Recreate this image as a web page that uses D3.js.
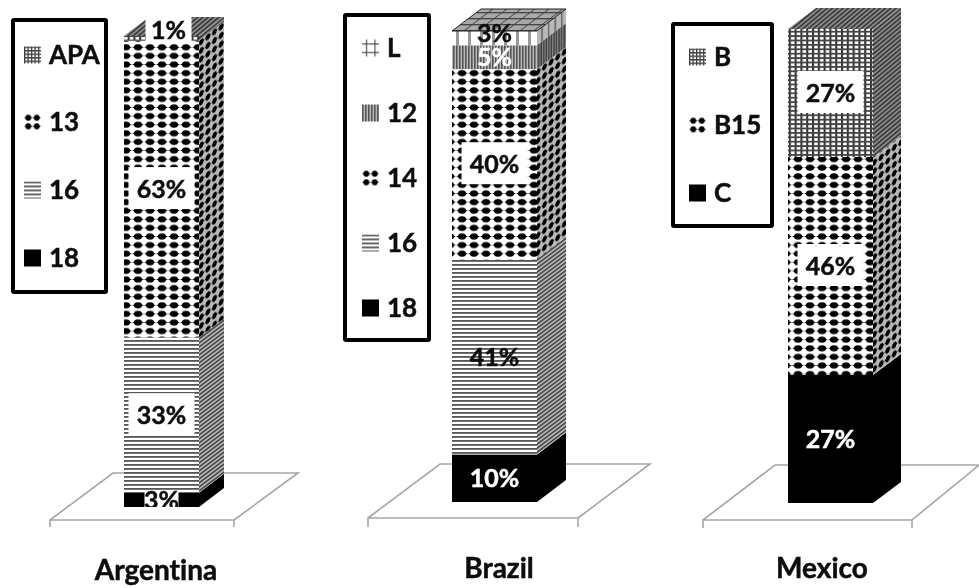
<!DOCTYPE html>
<html>
<head>
<meta charset="utf-8">
<script src="https://cdn.jsdelivr.net/npm/d3@7"></script>
<style>
  html, body { margin: 0; background: #fff; }
  text { font-family: Lato, "Open Sans", sans-serif; font-weight: 700; fill: #111; stroke-width: 0.5; font-variant-ligatures: none; }
</style>
</head>
<body>
<div id="container"></div>
<script>
/* DATA */
const countries = ["Argentina", "Brazil", "Mexico"]
const argentinaSeries = ["18", "16", "13", "APA"]
const argentinaValues = [3, 33, 63, 1]
const brazilSeries = ["18", "16", "14", "12", "L"]
const brazilValues = [10, 41, 40, 5, 3]
const mexicoSeries = ["C", "B15", "B"]
const mexicoValues = [27, 46, 27]

/* CONSTANTS */
const width = 979, height = 588

// fill type for each legend name
const fills = {
  "18": "solid", "C": "solid",
  "16": "lines",
  "13": "dots", "14": "dots", "B15": "dots",
  "12": "vlines",
  "L": "sparse",
  "APA": "grid", "B": "grid"
}

// layout of each little chart, the bar's front face and its floor
const panels = [
  { name: countries[0], series: argentinaSeries, values: argentinaValues, total: 100,
    x: [124, 199], y: [507, 36], depth: [25, -19],
    floor: { left: 50, right: 234, front: 520, back: 473, backLeft: 113, backRight: 298, tick: 527 },
    legend: { box: [13, 20, 93, 272], rows: [258, 190, 122, 55], swatch: 24, text: 49 },
    boxes: [true, true, true, true], labelY: [0, 0, 0, -8], title: [156, 570] },
  { name: countries[1], series: brazilSeries, values: brazilValues, total: 99,
    x: [452, 537], y: [502, 31], depth: [29, -22],
    floor: { left: 368, right: 578, front: 518, back: 464, backLeft: 440, backRight: 650, tick: 527 },
    legend: { box: [345, 15, 84, 325], rows: [308, 243, 178, 113, 48], swatch: 362, text: 387 },
    boxes: [false, false, true, false, false], labelY: [0, 0, 0, 0, -5], title: [499, 568] },
  { name: countries[2], series: mexicoSeries, values: mexicoValues, total: 100,
    x: [788, 873], y: [503, 29], depth: [28, -21],
    floor: { left: 703, right: 912, front: 520, back: 465, backLeft: 775, backRight: 979, tick: 528 },
    legend: { box: [673, 24, 99, 202], rows: [193, 125, 57], swatch: 689, text: 714 },
    boxes: [false, true, true], labelY: [0, 0, 0], title: [822, 568] }
]

const svg = d3.select("#container")
  .append("svg")
  .attr("width", width)
  .attr("height", height)
  .style("display", "block")

const defs = svg.append("defs")

/* PATTERNS */
function makePattern(id, type, transform) {
  const sizes = { lines: [8, 4], dots: [12, 8.6], vlines: [3, 8], sparse: [12, 8], grid: [5.8, 4.4], hash: [8.5, 8.5] }
  const [w, h] = sizes[type]
  const p = defs.append("pattern")
    .attr("id", id)
    .attr("patternUnits", "userSpaceOnUse")
    .attr("width", w)
    .attr("height", h)
    .attr("patternTransform", transform)
  p.append("rect").attr("width", w).attr("height", h).attr("fill", "#fff")
  if (type === "lines") {
    p.append("rect").attr("y", 0).attr("width", w).attr("height", 1.8).attr("fill", "#555")
  } else if (type === "dots") {
    p.append("ellipse").attr("cx", w / 2).attr("cy", h / 2).attr("rx", 4).attr("ry", 3.1).attr("fill", "#000")
    p.append("path").attr("d", `M0,${h / 2}L${w / 2},${h / 2 - 2}L${w},${h / 2}L${w / 2},${h / 2 + 2}Z`).attr("fill", "#000")
  } else if (type === "vlines") {
    p.select("rect").attr("fill", "#bbb")
    p.append("rect").attr("width", 1.6).attr("height", h).attr("fill", "#555")
  } else if (type === "sparse") {
    p.append("rect").attr("width", 3).attr("height", h).attr("fill", "#999")
  } else if (type === "grid") {
    p.append("rect").attr("width", 2.1).attr("height", h).attr("fill", "#333")
    p.append("rect").attr("width", w).attr("height", 1.8).attr("fill", "#444")
  } else if (type === "hash") {
    p.append("rect").attr("x", 4).attr("width", 1).attr("height", h).attr("fill", "#333")
    p.append("rect").attr("y", 4).attr("width", w).attr("height", 1).attr("fill", "#333")
  }
}

const types = ["lines", "dots", "vlines", "sparse", "grid"]
types.forEach(t => {
  makePattern(`front-${t}`, t, null)
  makePattern(`side-${t}`, t, "skewY(-37) scale(0.55,1)")
})
// the top faces have their own look
const topPattern = defs.append("pattern")
  .attr("id", "top-fine")
  .attr("patternUnits", "userSpaceOnUse")
  .attr("width", 3.4).attr("height", 3.4)
  .attr("patternTransform", "rotate(-40)")
topPattern.append("rect").attr("width", 3.4).attr("height", 3.4).attr("fill", "#8a8a8a")
topPattern.append("rect").attr("width", 3.4).attr("height", 1.7).attr("fill", "#3c3c3c")

const topGrid = defs.append("pattern")
  .attr("id", "top-sparse")
  .attr("patternUnits", "userSpaceOnUse")
  .attr("width", 14).attr("height", 6)
  .attr("patternTransform", "skewX(-53)")
topGrid.append("rect").attr("width", 14).attr("height", 6).attr("fill", "#a8a8a8")
topGrid.append("rect").attr("width", 1.4).attr("height", 6).attr("fill", "#444")
topGrid.append("rect").attr("width", 14).attr("height", 1.4).attr("fill", "#444")

const fillFor = (face, name) => {
  const t = fills[name]
  if (t === "solid") return "#000"
  if (face === "side" && t === "grid") return "url(#top-fine)"
  return `url(#${face}-${t})`
}

const soft = defs.append("filter").attr("id", "soft")
soft.append("feGaussianBlur").attr("stdDeviation", 0.45)

const root = svg.append("g").attr("filter", "url(#soft)")

/* CHARTS */
panels.forEach((panel, pi) => {
  const g = root.append("g")

  // scales
  const xScale = d3.scaleLinear().domain([0, 1]).range(panel.x)
  const yScale = d3.scaleLinear().domain([0, panel.total]).range(panel.y)
  const [dx, dy] = panel.depth
  const f = panel.floor

  // floor
  g.append("path")
    .attr("d", `M${f.left},${f.tick}V${f.front}L${f.backLeft},${f.back}H${f.backRight}L${f.right},${f.front}V${f.tick}M${f.left},${f.front}H${f.right}`)
    .attr("fill", "none")
    .attr("stroke", "#a6a6a6")
    .attr("stroke-width", 1.6)

  // stack the values
  let running = 0
  const stacked = panel.values.map((v, i) => {
    const seg = { name: panel.series[i], value: v, y0: running, y1: running + v, i }
    running += v
    return seg
  })

  const x0 = xScale(0), x1 = xScale(1)

  // front faces
  g.selectAll(".front")
    .data(stacked)
    .join("rect")
    .attr("class", "front")
    .attr("x", x0)
    .attr("y", d => yScale(d.y1))
    .attr("width", x1 - x0)
    .attr("height", d => yScale(d.y0) - yScale(d.y1))
    .attr("fill", d => fillFor("front", d.name))

  // side faces
  const sidePath = d => `M${x1},${yScale(d.y0)}L${x1 + dx},${yScale(d.y0) + dy}V${yScale(d.y1) + dy}L${x1},${yScale(d.y1)}Z`
  g.selectAll(".side")
    .data(stacked)
    .join("path")
    .attr("class", "side")
    .attr("d", sidePath)
    .attr("fill", d => fillFor("side", d.name))
  g.selectAll(".shade")
    .data(stacked.filter(d => fills[d.name] !== "solid" && fills[d.name] !== "grid"))
    .join("path")
    .attr("class", "shade")
    .attr("d", sidePath)
    .attr("fill", "#000")
    .attr("opacity", 0.28)

  // top face
  const last = stacked[stacked.length - 1]
  const yTop = yScale(last.y1)
  g.append("path")
    .attr("d", `M${x0},${yTop}H${x1}L${x1 + dx},${yTop + dy}H${x0 + dx}Z`)
    .attr("fill", fills[last.name] === "sparse" ? "url(#top-sparse)" : "url(#top-fine)")
    .attr("stroke", fills[last.name] === "sparse" ? "#222" : "none")
    .attr("stroke-width", 1)

  // value labels
  const clipId = `clip-${pi}`
  defs.append("clipPath").attr("id", clipId)
    .append("rect").attr("x", 0).attr("y", 0).attr("width", width).attr("height", yScale(0))

  const labels = g.append("g").attr("clip-path", `url(#${clipId})`)
  stacked.forEach(d => {
    const cx = xScale(0.5)
    const cy = yScale((d.y0 + d.y1) / 2) + panel.labelY[d.i]
    const solid = fills[d.name] === "solid"
    const grey = fills[d.name] === "vlines"
    const shift = d.value < 10 && !solid && pi === 0 ? 7 : 0
    const color = (solid && !panel.boxes[d.i]) || grey ? "#fff" : "#111"
    if (panel.boxes[d.i]) {
      const w = d.value < 10 ? (solid ? 34 : 46) : 66
      const h = d.value < 10 ? (solid ? 17 : 27) : 42
      labels.append("rect")
        .attr("x", cx - w / 2 + shift)
        .attr("y", cy - h / 2 - (solid ? 0 : 1))
        .attr("width", w)
        .attr("height", h)
        .attr("fill", "#fff")
    }
    labels.append("text")
      .attr("x", cx + shift)
      .attr("y", cy)
      .attr("dy", "0.36em")
      .attr("text-anchor", "middle")
      .attr("font-size", 25)
      .style("fill", color)
      .style("stroke", color)
      .text(`${d.value}%`)
  })

  // legend
  const [bx, by, bw, bh] = panel.legend.box
  const legend = g.append("g")
  legend.append("rect")
    .attr("x", bx).attr("y", by)
    .attr("width", bw).attr("height", bh)
    .attr("fill", "#fff")
    .attr("stroke", "#000")
    .attr("stroke-width", 4)
    .attr("rx", 1)
  stacked.forEach(d => {
    const ry = panel.legend.rows[d.i]
    const sx = panel.legend.swatch, sy = ry - 8.5
    const t = fills[d.name]
    let swatchFill = "#000"
    if (t !== "solid") {
      const id = `legend-${pi}-${d.i}`
      const type = t === "sparse" ? "hash" : t
      const scale = t === "dots" ? "scale(0.71,0.99)" : t === "grid" ? "scale(0.6,0.8)" : "scale(1,1)"
      makePattern(id, type, `translate(${sx},${sy}) ${scale}`)
      swatchFill = `url(#${id})`
    }
    legend.append("rect")
      .attr("x", sx)
      .attr("y", sy)
      .attr("width", 17)
      .attr("height", 17)
      .attr("fill", swatchFill)
    legend.append("text")
      .attr("x", panel.legend.text)
      .attr("y", ry)
      .attr("dy", "0.36em")
      .attr("font-size", 26)
      .style("stroke", "#111")
      .text(d.name)
  })

  // country name
  g.append("text")
    .attr("x", panel.title[0])
    .attr("y", panel.title[1])
    .attr("dy", "0.36em")
    .attr("text-anchor", "middle")
    .attr("font-size", 28)
    .style("stroke", "#111")
    .text(panel.name)
})
</script>
</body>
</html>
